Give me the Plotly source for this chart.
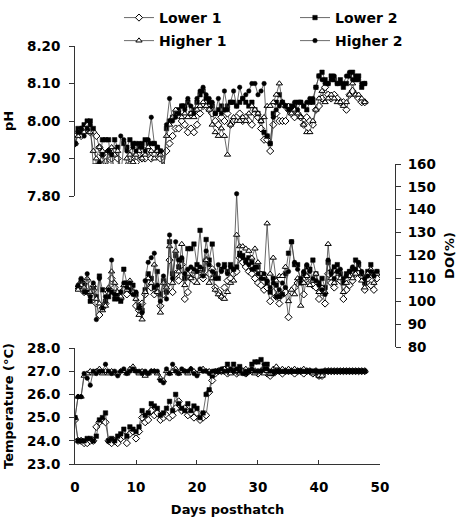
import plotly.graph_objects as go

# ---------------- data ----------------
series_names = ["Lower 1", "Lower 2", "Higher 1", "Higher 2"]

# sampling days (every half day)
days_ph = [i * 0.5 for i in range(96)]          # 0 .. 47.5
days_do = [0.5 + i * 0.5 for i in range(99)]    # 0.5 .. 49.5
days_temp = [i * 0.5 for i in range(96)]        # 0 .. 47.5

ph_lower1 = [
    7.94, 7.97, 7.96, 7.98, 7.99, 7.97, 7.97, 7.96, 7.93, 7.91,
    7.89, 7.92, 7.90, 7.92, 7.90, 7.86, 7.85, 7.88, 7.90, 7.92,
    7.89, 7.91, 7.90, 7.90, 7.92, 7.90, 7.91, 7.92, 7.90, 7.88,
    7.92, 7.94, 7.96, 7.98, 7.98, 8.00, 7.99, 7.97, 7.98, 7.97,
    7.99, 8.02, 8.04, 8.05, 8.03, 8.02, 8.00, 7.99, 8.01, 8.00,
    8.02, 7.99, 8.00, 8.01, 8.02, 8.00, 8.01, 8.00, 7.99, 8.02,
    8.01, 7.98, 7.95, 7.95, 7.92, 7.99, 8.02, 8.00, 8.00, 8.00,
    8.03, 8.02, 8.01, 8.02, 8.01, 7.99, 8.01, 8.00, 7.99, 8.03,
    8.04, 8.06, 8.09, 8.07, 8.06, 8.07, 8.06, 8.05, 8.05, 8.03,
    8.07, 8.08, 8.07, 8.06, 8.05, 8.05,
]
ph_lower2 = [
    7.94, 7.98, 7.97, 7.99, 8.00, 8.00, 7.98, 7.88, 7.88, 7.95,
    7.95, 7.95, 7.87, 7.95, 7.93, 7.85, 7.94, 7.93, 7.95, 7.94,
    7.94, 7.93, 7.94, 7.95, 7.94, 7.94, 7.94, 7.93, 7.92, 7.86,
    7.98, 8.00, 8.01, 8.02, 8.03, 8.04, 8.04, 8.05, 8.02, 8.03,
    8.05, 8.07, 8.08, 8.06, 8.05, 8.04, 8.02, 8.03, 8.04, 8.03,
    8.04, 8.05, 8.05, 8.04, 8.05, 8.06, 8.05, 8.04, 8.05, 8.03,
    8.02, 8.00, 7.97, 7.96, 7.94, 8.02, 8.05, 8.07, 8.05, 8.04,
    8.04, 8.03, 8.04, 8.05, 8.05, 8.04, 8.03, 8.05, 8.05, 8.09,
    8.12, 8.13, 8.11, 8.10, 8.12, 8.11, 8.10, 8.11, 8.09, 8.10,
    8.12, 8.13, 8.11, 8.12, 8.09, 8.10,
]
ph_higher1 = [
    7.94, 7.96, 7.98, 7.97, 7.99, 7.97, 7.92, 7.90, 7.93, 7.92,
    7.88, 7.92, 7.93, 7.91, 7.92, 7.87, 7.86, 7.90, 7.91, 7.89,
    7.91, 7.92, 7.90, 7.91, 7.93, 7.92, 7.90, 7.92, 7.91, 7.86,
    7.96, 7.99, 8.01, 8.03, 8.02, 8.01, 8.02, 8.01, 8.02, 8.01,
    8.03, 8.04, 8.05, 8.04, 8.03, 7.99, 7.97, 7.96, 7.98, 7.96,
    7.91, 7.99, 8.01, 8.00, 8.00, 8.01, 8.00, 8.02, 8.04, 8.03,
    8.02, 8.00, 8.01, 8.04, 8.04, 8.05, 8.07, 8.10, 8.05, 8.04,
    8.04, 8.02, 8.03, 8.02, 8.01, 7.99, 7.97, 7.97, 8.00, 8.03,
    8.06, 8.08, 8.05, 8.06, 8.07, 8.06, 8.05, 8.05, 8.04, 8.05,
    8.07, 8.10, 8.07, 8.07, 8.06, 8.05,
]
ph_higher2 = [
    7.94, 7.97, 7.98, 7.96, 7.98, 7.99, 7.88, 7.88, 7.89, 7.91,
    7.84, 7.92, 7.91, 7.87, 7.87, 7.96, 7.95, 7.92, 7.87, 7.93,
    7.92, 7.94, 7.93, 7.92, 7.95, 8.01, 7.94, 7.93, 7.92, 7.86,
    7.99, 8.06, 8.00, 8.01, 8.02, 8.04, 8.03, 8.06, 8.04, 8.02,
    8.06, 8.08, 8.09, 8.07, 8.06, 8.05, 8.02, 8.06, 8.02, 8.08,
    8.03, 8.05, 8.08, 8.04, 8.09, 8.06, 8.07, 8.08, 8.10, 8.10,
    8.07, 8.08, 8.10, 7.96, 7.94, 8.01, 8.03, 8.04, 8.05, 8.04,
    8.03, 8.04, 8.05, 8.03, 8.05, 8.04, 8.05, 8.06, 8.06, 8.09,
    8.12, 8.11, 8.10, 8.10, 8.11, 8.12, 8.10, 8.10, 8.10, 8.12,
    8.13, 8.11, 8.12, 8.11, 8.10, 8.10,
]

do_lower1 = [
    106, 108, 104, 109, 103, 105, 99, 94, 97, 99,
    104, 110, 106, 102, 101, 105, 103, 106, 104, 98,
    96, 99, 103, 108, 106, 103, 104, 98, 103, 107,
    118, 104, 112, 109, 116, 101, 104, 110, 109, 111,
    114, 110, 118, 112, 114, 106, 104, 102, 106, 109,
    110, 112, 113, 119, 117, 115, 113, 112, 110, 108,
    107, 105, 106, 100, 104, 102, 99, 103, 104, 93,
    104, 106, 108, 109, 103, 111, 108, 107, 106, 101,
    104, 99, 112, 108, 106, 110, 109, 101, 105, 107,
    109, 112, 113, 111, 105, 110, 107, 105, 110,
]
do_lower2 = [
    106, 109, 107, 104, 100, 106, 102, 111, 105, 100,
    102, 104, 101, 103, 100, 114, 108, 105, 107, 103,
    98, 96, 105, 112, 110, 106, 113, 103, 109, 104,
    126, 112, 120, 115, 118, 110, 123, 123, 125, 116,
    131, 114, 127, 118, 125, 112, 110, 114, 116, 113,
    116, 114, 115, 121, 120, 118, 119, 117, 114, 115,
    112, 110, 108, 104, 110, 107, 102, 103, 112, 121,
    126, 116, 116, 108, 112, 115, 114, 118, 112, 108,
    110, 106, 117, 113, 115, 116, 112, 108, 112, 113,
    114, 118, 116, 112, 108, 113, 116, 112, 113,
]
do_higher1 = [
    105, 107, 106, 110, 104, 107, 101, 99, 96, 98,
    106, 113, 108, 104, 102, 107, 105, 109, 104, 101,
    94, 92, 104, 110, 108, 116, 104, 95, 108, 106,
    124, 108, 122, 113, 125, 107, 112, 110, 113, 108,
    114, 112, 118, 108, 110, 105, 103, 102, 101, 104,
    108, 109, 129, 124, 124, 123, 122, 119, 123, 117,
    112, 111, 134, 112, 119, 109, 111, 111, 115, 100,
    105, 103, 110, 98, 108, 111, 107, 109, 112, 104,
    106, 104, 125, 110, 108, 113, 110, 104, 108, 111,
    110, 112, 114, 109, 106, 112, 114, 108, 112,
]
do_higher2 = [
    107, 110, 104, 112, 102, 108, 92, 110, 97, 102,
    105, 118, 103, 101, 104, 108, 106, 108, 103, 104,
    97, 95, 109, 117, 119, 121, 107, 100, 111, 101,
    129, 110, 126, 118, 119, 112, 114, 115, 114, 113,
    115, 111, 122, 116, 113, 110, 116, 113, 115, 112,
    115, 114, 147, 120, 119, 117, 116, 114, 115, 112,
    110, 112, 109, 106, 108, 102, 105, 108, 106, 113,
    126, 117, 114, 110, 113, 116, 113, 110, 109, 107,
    105, 103, 118, 112, 110, 113, 114, 110, 111, 113,
    115, 114, 117, 113, 110, 111, 113, 111, 113,
]

temp_lower1 = [
    24.9, 24.0, 24.0, 23.9, 23.9, 24.0, 24.0, 24.6, 24.8, 24.9,
    24.8, 24.0, 23.9, 24.0, 23.9, 24.1, 24.2, 23.9, 24.3, 24.4,
    24.1, 24.4, 25.0, 24.8, 24.9, 25.3, 25.1, 25.2, 24.9, 25.0,
    25.1, 25.0, 25.1, 25.4, 25.7, 25.3, 25.4, 25.1, 25.2, 25.0,
    25.2, 24.9, 25.0, 25.1, 26.1, 26.6, 26.9, 27.0, 27.0, 27.0,
    26.9, 27.0, 27.0, 26.9, 27.0, 27.0, 26.9, 27.0, 27.0, 27.0,
    26.9, 27.0, 27.0, 26.9, 26.8, 27.0, 27.0, 27.0, 26.9, 27.0,
    27.0, 27.0, 26.9, 27.0, 27.0, 26.9, 27.0, 27.0, 26.9, 27.0,
    26.8, 26.8, 27.0, 27.0, 27.0, 27.0, 27.0, 27.0, 27.0, 27.0,
    27.0, 27.0, 27.0, 27.0, 27.0, 27.0,
]
temp_lower2 = [
    25.0, 24.0, 24.0, 24.0, 24.1, 24.1, 24.0, 24.2, 24.9, 25.0,
    25.2, 24.0, 24.1, 24.0, 24.2, 24.3, 24.5, 24.2, 24.6, 24.5,
    24.4, 24.6, 25.3, 25.1, 25.2, 25.6, 25.5, 25.4, 25.1, 25.2,
    25.4, 25.7, 25.3, 26.0, 25.6, 25.4, 25.3, 25.6, 25.3, 25.5,
    25.4, 25.0, 25.2, 26.0, 26.2, 26.8, 27.0, 27.0, 27.0, 27.1,
    27.3, 27.0, 27.3, 27.0, 27.2, 27.0, 26.9, 27.0, 27.3, 27.4,
    27.4, 27.5, 27.1, 27.3, 26.9, 26.9, 27.0, 27.0, 27.0, 27.0,
    27.0, 27.0, 27.0, 27.0, 27.0, 27.0, 27.0, 27.0, 27.0, 27.0,
    26.8, 27.0, 27.0, 27.0, 27.0, 27.0, 27.0, 27.0, 27.0, 27.0,
    27.0, 27.0, 27.0, 27.0, 27.0, 27.0,
]
temp_higher1 = [
    25.0, 25.9, 25.9, 26.8, 26.9, 27.0, 26.9, 27.0, 27.1, 26.9,
    27.0, 26.9, 27.0, 26.9, 26.9, 27.0, 27.0, 26.9, 27.1, 27.2,
    27.0, 26.9, 27.0, 26.8, 26.9, 27.0, 27.0, 26.9, 26.7, 26.6,
    27.0, 26.9, 27.0, 27.1, 26.9, 27.0, 27.0, 26.9, 27.1, 27.0,
    26.9, 27.0, 27.1, 27.0, 27.0, 26.9, 27.0, 27.0, 27.0, 27.1,
    27.0, 26.9, 27.0, 27.0, 26.9, 27.0, 27.1, 27.0, 27.0, 26.9,
    27.0, 27.0, 26.9, 27.0, 26.9, 27.1, 27.2, 27.0, 27.1, 27.0,
    27.1, 27.0, 27.1, 27.0, 27.0, 27.1, 27.0, 27.0, 26.9, 27.0,
    26.8, 26.8, 27.0, 27.0, 27.0, 27.0, 27.0, 27.0, 27.0, 27.0,
    27.0, 27.0, 27.0, 27.0, 27.0, 27.0,
]
temp_higher2 = [
    25.0, 25.9, 25.9, 26.9, 26.7, 26.4, 27.0, 26.9, 27.0, 27.0,
    27.3, 27.0, 26.9, 27.0, 26.8, 27.0, 27.1, 26.9, 27.0, 27.1,
    27.0, 27.0, 26.9, 27.0, 26.9, 27.0, 27.0, 27.0, 26.6, 26.5,
    27.1, 26.9, 27.3, 27.0, 26.9, 27.1, 27.0, 27.0, 27.1, 26.9,
    26.8, 27.1, 27.0, 27.0, 26.9, 27.0, 27.0, 27.0, 27.1, 27.0,
    27.0, 27.1, 27.0, 27.1, 27.0, 26.9, 27.0, 27.0, 27.1, 27.0,
    27.0, 27.0, 27.3, 27.1, 27.0, 27.0, 27.0, 27.0, 27.0, 27.0,
    27.0, 27.0, 27.0, 27.0, 27.0, 27.0, 27.0, 27.0, 27.0, 27.0,
    27.0, 27.0, 27.0, 27.0, 27.0, 27.0, 27.0, 27.0, 27.0, 27.0,
    27.0, 27.0, 27.0, 27.0, 27.0, 27.0,
]

ph_values = [ph_lower1, ph_lower2, ph_higher1, ph_higher2]
do_values = [do_lower1, do_lower2, do_higher1, do_higher2]
temp_values = [temp_lower1, temp_lower2, temp_higher1, temp_higher2]

ph_ticks = [7.80, 7.90, 8.00, 8.10, 8.20]
do_ticks = [80, 90, 100, 110, 120, 130, 140, 150, 160]
temp_ticks = [23.0, 24.0, 25.0, 26.0, 27.0, 28.0]
day_ticks = [0, 10, 20, 30, 40, 50]

# ---------------- styles ----------------
marker_styles = [
    dict(symbol="diamond", color="white", size=5.5, line=dict(color="black", width=1)),
    dict(symbol="square", color="black", size=4.5, line=dict(color="black", width=0.5)),
    dict(symbol="triangle-up", color="white", size=5.5, line=dict(color="black", width=1)),
    dict(symbol="circle", color="black", size=4.5, line=dict(color="black", width=0.5)),
]
line_style = dict(color="#444444", width=0.8)

FONT = "DejaVu Sans"
tick_font = dict(family=FONT, size=13.5, color="black", weight="bold")
title_font = dict(family=FONT, size=13, color="black", weight="bold")
legend_font = dict(family=FONT, size=14, color="black", weight="bold")

legend_ids = ["legend", "legend2", "legend3", "legend4"]
# legend placement (paper coords): 2 x 2 grid
legend_pos = [(0.1264, 1.1053), (0.6322, 1.1053), (0.1264, 1.0502), (0.6322, 1.0502)]

fig = go.Figure()
for i, name in enumerate(series_names):
    fig.add_trace(go.Scatter(
        x=days_ph, y=ph_values[i], mode="lines+markers", name=name,
        legendgroup=name, showlegend=True, legend=legend_ids[i],
        line=line_style, marker=marker_styles[i], xaxis="x", yaxis="y"))
    fig.add_trace(go.Scatter(
        x=days_do, y=do_values[i], mode="lines+markers", name=name,
        legendgroup=name, showlegend=False,
        line=line_style, marker=marker_styles[i], xaxis="x", yaxis="y2"))
    fig.add_trace(go.Scatter(
        x=days_temp, y=temp_values[i], mode="lines+markers", name=name,
        legendgroup=name, showlegend=False,
        line=line_style, marker=marker_styles[i], xaxis="x", yaxis="y3"))

axis_common = dict(showgrid=False, zeroline=False, showline=True,
                   linecolor="#333333", linewidth=1, tickcolor="#333333",
                   tickfont=tick_font, automargin=False)

legend_layouts = {}
for lid, (lx, ly) in zip(legend_ids, legend_pos):
    legend_layouts[lid] = dict(x=lx, xanchor="left", y=ly, yanchor="top",
                               font=legend_font, bgcolor="rgba(0,0,0,0)",
                               itemwidth=30)

fig.update_layout(
    width=463, height=524,
    margin=dict(l=75, r=40, t=46, b=60, autoexpand=False),
    paper_bgcolor="white", plot_bgcolor="white",
    font=dict(family=FONT, size=13, color="black"),
    showlegend=True,
    xaxis=dict(domain=[0, 0.8764], range=[0, 50], anchor="y3",
               tickvals=day_ticks, ticks="inside", ticklen=4, ticklabelstandoff=11,
               title=dict(text="Days posthatch", font=title_font, standoff=10),
               **axis_common),
    yaxis=dict(domain=[0.6411, 1.0], range=[7.80, 8.20], anchor="x",
               tickvals=ph_ticks, tickformat=".2f", ticks="outside", ticklen=5,
               ticklabelstandoff=6,
               title=dict(text="pH", font=title_font, standoff=10),
               **axis_common),
    yaxis2=dict(domain=[0.2799, 0.7177], range=[80, 160], anchor="free",
                position=0.9195, side="right",
                tickvals=do_ticks, ticks="outside", ticklen=5, ticklabelstandoff=4,
                title=dict(text="DO(%)", font=title_font, standoff=10),
                **axis_common),
    yaxis3=dict(domain=[0, 0.2775], range=[23, 28], anchor="x",
                tickvals=temp_ticks, tickformat=".1f", ticks="outside", ticklen=5,
                ticklabelstandoff=6,
                title=dict(text="Temperature (°C)", font=title_font, standoff=10),
                **axis_common),
    **legend_layouts,
)

fig.write_html("out.html", config={"displayModeBar": False})
